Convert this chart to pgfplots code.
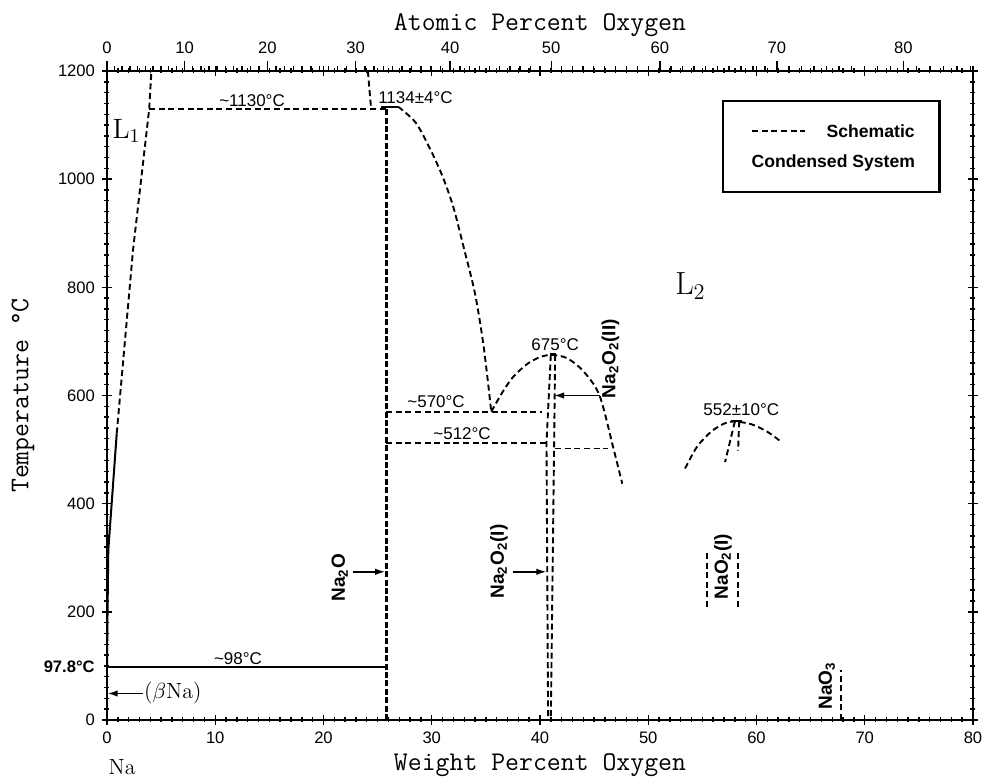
\documentclass[border=0pt]{standalone}
\usepackage{fontspec}
\setsansfont{Liberation Sans}
\usepackage{pgfplots}
\pgfplotsset{compat=1.18}
\usetikzlibrary{arrows.meta}
\newcommand\sub[1]{\textsubscript{#1}}
\begin{document}
\begin{tikzpicture}[
  sch/.style={dash pattern=on 3pt off 1.8pt, line width=0.95pt, black},
  lab/.style={font=\sffamily\fontsize{8.5}{10}\selectfont, inner sep=0pt},
  chem/.style={font=\sffamily\bfseries\fontsize{9.5}{11}\selectfont, inner sep=0pt, rotate=90},
  arr/.style={line width=0.8pt, black, -{Latex[length=5pt,width=3.2pt]}}
]
\begin{axis}[
  at={(0,0)}, anchor=south west, scale only axis,
  width=433pt, height=324.5pt,
  xmin=0, xmax=80, ymin=0, ymax=1200,
  clip=false,
  axis line style={line width=0.7pt},
  xtick={0,10,...,80}, ytick={0,200,...,1200},
  minor x tick num=9, minor y tick num=9,
  tick pos=both, xticklabel pos=lower, yticklabel pos=left,
  tick align=center,
  major tick length=5pt, minor tick length=2.5pt,
  every tick/.style={black, line width=0.7pt},
  ticklabel style={font=\sffamily\fontsize{8.3}{10}\selectfont},
  /pgf/number format/assume math mode=true,
  /pgf/number format/set thousands separator={},
]
% Na-rich liquidus
\addplot[sch] coordinates {(0.9,530) (2.4,868) (3.9,1130) (4.1,1200)};
\addplot[line width=1pt] coordinates {(0,97.8) (0.05,200) (0.12,314) (0.9,530)};
\addplot[sch] coordinates {(3.9,1130) (25.8,1130)};
\addplot[sch] coordinates {(24.1,1200) (24.4,1130)};
\addplot[line width=0.9pt] coordinates {(25.3,1134) (26.9,1134)};
\addplot[line width=1.4pt, dash pattern=on 3pt off 1.2pt] coordinates {(25.8,0) (25.8,1134)};
\addplot[sch, smooth] coordinates {(26.9,1134) (28.5,1105) (29.8,1058) (31.0,1005) (32.0,948) (33.0,870) (34.0,788) (34.8,690) (35.5,570)};
% eutectic / peritectic lines
\addplot[sch] coordinates {(25.8,570) (40.2,570)};
\addplot[sch] coordinates {(25.8,512) (40.8,512)};
\addplot[sch, smooth] coordinates {(35.5,570) (36.5,605) (37.5,634) (38.8,658) (40,671) (41.1,675) (42.5,669) (44,645) (45.5,600) (46.8,501) (47.6,437)};
% Na2O2
\addplot[sch] coordinates {(41.0,675) (40.6,512) (40.75,0)};
\addplot[sch] coordinates {(41.4,675) (41.3,500) (41.0,0)};
\addplot[line width=0.9pt] coordinates {(40.9,676) (41.5,676)};
\addplot[sch] coordinates {(41.4,502) (46.3,502)};
\addplot[arr] coordinates {(45.5,600) (41.3,600)};
\addplot[arr] coordinates {(37.5,274) (40.6,274)};
\addplot[arr] coordinates {(22.75,274) (25.7,274)};
\addplot[arr] coordinates {(3.3,49) (0.05,49)};
\addplot[line width=1pt] coordinates {(0,97.8) (25.8,97.8)};
% NaO2
\addplot[sch, smooth] coordinates {(53.4,465) (54.5,505) (55.8,533) (57.0,548) (57.9,552) (59.5,547) (61,533) (62.3,514)};
\addplot[sch] coordinates {(58.0,552) (57.1,477)};
\addplot[sch] coordinates {(58.4,552) (58.3,498)};
\addplot[line width=0.9pt] coordinates {(57.6,553) (58.7,553)};
\addplot[sch] coordinates {(55.4,209) (55.4,308)};
\addplot[sch] coordinates {(58.3,209) (58.3,308)};
% NaO3
\addplot[sch] coordinates {(67.8,0) (67.8,92)};
% legend box
\draw[line width=1.1pt] (axis cs:56.9,977) rectangle (axis cs:76.9,1144.6);
\addplot[sch, line width=0.8pt] coordinates {(59.6,1089) (64.5,1089)};
\node[font=\sffamily\bfseries\fontsize{8.8}{10}\selectfont] at (axis cs:70.55,1089) {Schematic};
\node[font=\sffamily\bfseries\fontsize{8.8}{10}\selectfont] at (axis cs:67.1,1030) {Condensed System};
% annotations
\node[lab] at (axis cs:13.4,1146) {\textasciitilde1130°C};
\node[lab] at (axis cs:28.5,1151) {1134±4°C};
\node[font=\rmfamily\fontsize{14}{16}\selectfont] at (axis cs:1.8,1089) {L\sub{1}};
\node[font=\rmfamily\fontsize{16}{18}\selectfont] at (axis cs:53.9,803) {L\sub{2}};
\node[lab] at (axis cs:30.4,588) {\textasciitilde570°C};
\node[lab] at (axis cs:32.8,529) {\textasciitilde512°C};
\node[lab] at (axis cs:41.4,694) {675°C};
\node[lab] at (axis cs:58.6,573) {552±10°C};
\node[lab] at (axis cs:12.1,114) {\textasciitilde98°C};
\node[chem] at (axis cs:46.5,668) {Na\sub{2}O\sub{2}(II)};
\node[chem] at (axis cs:36.2,293) {Na\sub{2}O\sub{2}(I)};
\node[chem] at (axis cs:21.5,263) {Na\sub{2}O};
\node[chem] at (axis cs:56.9,284) {NaO\sub{2}(I)};
\node[chem] at (axis cs:66.5,63) {NaO\sub{3}};
\node[font=\rmfamily\fontsize{11}{13}\selectfont, anchor=west, inner sep=0pt] at (axis cs:3.4,49) {($\beta$Na)};
\node[font=\sffamily\bfseries\fontsize{8.3}{10}\selectfont, anchor=east, inner sep=0pt] at (axis cs:-1.1,97.8) {97.8°C};
\node[font=\rmfamily\fontsize{11}{13}\selectfont] at (axis cs:1.4,-88) {Na};
% axis titles
\node[font=\ttfamily\fontsize{13.5}{16}\selectfont] at ([yshift=-22.5pt]rel axis cs:0.5,0) {Weight Percent Oxygen};
\node[font=\ttfamily\fontsize{13.5}{16}\selectfont] at ([yshift=23pt]rel axis cs:0.5,1) {Atomic Percent Oxygen};
\node[font=\ttfamily\fontsize{13.5}{16}\selectfont, rotate=90] at ([xshift=-42pt]rel axis cs:0,0.5) {Temperature °C};
\end{axis}
\begin{axis}[
  at={(0,0)}, anchor=south west, scale only axis,
  width=433pt, height=324.5pt,
  xmin=0, xmax=80, ymin=0, ymax=1200,
  axis x line*=top, axis y line=none,
  axis line style={line width=0.7pt},
  xtick={0,7.1778,14.8203,22.9742,31.6926,41.0362,51.0747,61.8887,73.5717},
  xticklabels={0,10,20,30,40,50,60,70,80},
  minor xtick={0.6981,1.4004,2.1071,2.8181,3.5335,4.2533,4.9776,5.7064,6.4398,
    7.9204,8.6677,9.4197,10.1765,10.9382,11.7047,12.4761,13.2525,14.0339,
    15.6119,16.4086,17.2105,18.0177,18.8302,19.6481,20.4713,21.3001,22.1344,
    23.8197,24.6709,25.5278,26.3906,27.2592,28.1338,29.0143,29.9009,30.7936,
    32.5977,33.5092,34.4270,35.3513,36.2821,37.2195,38.1635,39.1143,40.0718,
    42.0075,42.9858,43.9713,44.9639,45.9638,46.9710,47.9856,49.0077,50.0374,
    52.1198,53.1727,54.2335,55.3023,56.3792,57.4644,58.5578,59.6596,60.7699,
    63.0162,64.1525,65.2976,66.4519,67.6152,68.7876,69.9694,71.1606,72.3613,
    74.7918,76.0218,77.2618,78.5120,79.7724},
  tick align=outside,
  major tick length=5pt, minor tick length=2.5pt,
  every tick/.style={black, line width=0.7pt},
  ticklabel style={font=\sffamily\fontsize{8.3}{10}\selectfont},
  /pgf/number format/assume math mode=true,
]
\end{axis}
\pgfresetboundingbox
\path[use as bounding box] (-53.5pt,-28.5pt) rectangle (437.5pt,360pt);
\end{tikzpicture}
\end{document}
